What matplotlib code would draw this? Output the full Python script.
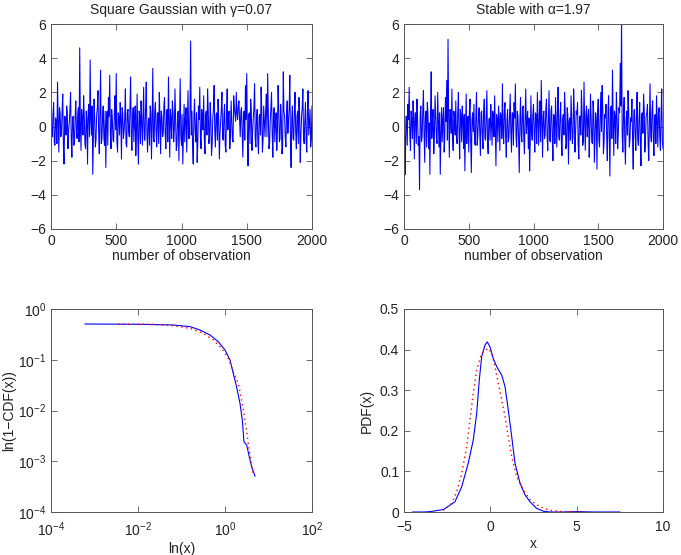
import matplotlib.pyplot as plt
import numpy as np

plt.rcParams['font.family'] = ['Liberation Sans', 'DejaVu Sans']
plt.rcParams['font.size'] = 10
plt.rcParams['mathtext.fontset'] = 'custom'
plt.rcParams['mathtext.rm'] = 'Liberation Sans'

# top-left: square gaussian series, values at observations 0, 10, 20, ...
sq_gauss = [
    0.9, -0.6, 1.4, -1.1, 0.3, 2.6, -1.5, 0.8, -0.4, 1.9, -2.2, 0.5, 1.2, -1.3, 0.2, 2.0, -1.8, 0.6, -0.9, 1.5,
    -0.7, 1.1, 4.6, -1.4, 0.4, 1.8, -1.0, 0.9, -2.2, 1.3, 3.9, -0.5, -2.8, 1.6, -1.2, 0.7, 2.1, -1.6, 3.3, -0.8,
    1.2, -1.1, -2.4, 0.9, 1.7, 3.0, -1.3, 0.4, -0.9, 1.8, 3.1, -1.5, 0.6, 1.4, -1.9, 0.8, -0.3, 2.2, -1.2, 1.0,
    -0.6, 2.9, -1.4, 1.1, 0.3, -1.7, 1.9, -2.2, 0.7, 1.5, -1.1, 2.3, -0.8, 2.6, -1.5, 0.5, 1.2, -1.9, 3.4, -0.9,
    1.4, -1.2, 0.8, 2.0, -1.6, 0.6, -0.4, 1.7, -1.3, 1.0, 2.9, -1.8, 0.4, 1.5, -0.9, 2.2, -1.4, 0.7, -2.0, 2.8,
    -1.1, -2.2, 1.3, 0.5, -1.5, 2.1, -0.7, 5.0, 0.9, -2.2, 1.6, -0.9, -2.1, 1.2, 2.3, -1.3, 0.6, 1.8, -1.6, 0.9,
    2.2, -1.0, 1.4, -1.7, 0.5, 2.4, -1.2, 0.8, 1.6, -1.9, 0.3, 2.0, -0.8, 1.3, -1.5, 2.2, 0.6, -1.3, 1.5, -0.7,
    1.8, 0.7, 2.0, 0.4, 1.5, -0.6, 1.1, -1.8, 0.9, 2.4, 3.1, -2.3, 0.8, 1.6, -1.4, 0.5, 2.5, -1.2, 1.0, -1.6,
    0.7, 2.3, -1.5, 1.2, -0.6, 1.9, 3.1, -1.3, 0.4, 2.0, -1.8, 1.1, 0.3, -1.4, 2.4, -0.9, 1.3, -1.6, 3.2, 0.6,
    -1.2, 1.5, 0.4, 3.0, -2.4, 1.2, -0.8, 2.0, -1.3, 0.9, 1.7, -2.1, 0.6, 2.2, -1.0, 1.4, -1.5, 2.1, 0.3, -1.2,
    1.2,
]
# values at observations 5, 15, 25, ...
sq_gauss_mid = [
    -0.4, 0.7, -0.9, 0.5, -1.0, 0.3, 1.1, -0.6, 0.9, -1.2, 0.6, -0.5, 0.8, -0.2, 1.0, -0.7, 0.4, -1.1, 0.6, -0.3,
    0.8, -0.9, 0.2, 1.0, -0.5, 0.6, -1.3, 0.4, 0.9, -0.6, 0.3, 1.2, -0.4, 0.5, -0.8, 1.1, -0.3, 0.7, -1.0, 0.5,
    -0.6, 0.9, 0.3, -1.1, 0.6, -0.4, 1.0, -0.8, 0.7, -0.2, -0.9, 0.8, -0.5, 0.4, 1.1, -0.7, 0.5, -1.0, 0.8, -0.3,
    1.0, -0.5, 0.6, -0.9, 1.2, -0.2, -0.6, 0.9, -1.0, 0.4, 0.7, -0.8, 1.1, -0.4, 0.3, -1.1, 0.8, 0.2, -0.7, 0.9,
    -0.3, 0.8, -1.0, 0.5, 0.9, -0.6, 1.2, -0.4, 0.6, -0.9, 0.3, 1.0, -0.7, 0.8, -0.2, 0.5, -1.1, 0.9, 0.4, -0.6,
    0.7, -0.4, -0.9, 1.1, 0.3, -0.7, 0.9, -0.5, -1.2, 0.6, -0.3, 0.8, -1.0, 0.4, -0.6, 1.0, -0.2, -0.8, 0.7, -0.5,
    0.9, -0.6, 0.4, -1.0, 1.1, -0.3, 0.7, -0.8, 0.5, -0.4, 1.0, -0.7, 0.6, -1.1, 0.8, -0.2, 0.9, -0.5, 0.3, -0.9,
    1.1, 0.3, 0.8, 1.2, 0.5, 0.9, -0.4, 0.6, -0.8, 0.4, -0.6, 0.7, -1.0, 0.9, -0.3, 1.1, -0.7, 0.5, -0.9, 0.6,
    -0.5, 1.0, -0.8, 0.3, 0.9, -0.6, 0.7, -1.0, 1.1, -0.4, 0.6, -0.9, 0.8, -0.3, 1.0, -0.7, 0.4, -1.1, 0.9, -0.6,
    0.8, -0.4, 1.0, -0.9, 0.5, -0.7, 0.9, -0.3, 0.6, -1.0, 0.7, -0.5, 1.1, -0.6, 0.4, -0.8, 0.9, -0.5, 1.0, -0.7,
]

# top-right: stable series, values at observations 0, 10, 20, ...
stable = [
    1.9, -2.8, 0.6, 1.3, 2.3, -1.4, 0.4, 1.5, -1.9, 0.8, 1.6, -1.1, -3.7, 1.2, -0.6, 2.1, -2.1, 0.9, 1.4, -1.3,
    -2.8, 3.2, 0.5, -1.6, 1.8, -0.7, 2.0, -1.2, -2.8, 1.1, 0.4, -1.5, 1.7, 2.7, 5.1, -1.8, 0.9, 2.2, -1.4, 0.6,
    1.5, -1.0, 2.0, -1.9, 0.7, 1.2, -1.3, -2.6, 1.9, 0.3, -1.5, 1.6, -2.7, 0.8, 1.3, -1.1, 2.0, -0.6, 1.1, -1.7,
    0.9, -1.3, 1.6, -0.8, 2.1, -1.6, 0.5, 1.3, -1.1, 0.7, 1.8, -2.3, 0.4, 1.2, -1.4, 0.6, 2.5, -1.0, 1.4, -1.8,
    1.0, -0.7, 1.9, -1.5, 0.8, 1.4, 2.5, -1.2, 0.6, -2.7, 1.7, -0.9, 1.2, -1.6, 2.2, 0.4, -1.3, -2.6, 1.8, -0.8,
    1.3, -1.5, 0.7, 2.0, -1.1, 1.5, 2.7, -1.8, 0.9, -0.5, 1.6, -1.4, 2.1, -0.9, 1.2, -2.0, 0.6, 1.7, -1.2, 2.3,
    -0.8, 1.4, -1.7, 0.7, 2.0, -1.3, 1.1, -2.2, 0.5, 1.8, -1.0, 2.2, -1.5, 0.9, 1.4, -1.9, 0.6, 2.1, -1.1, 2.6,
    -1.4, 1.2, 0.4, -1.8, 1.9, -0.9, 1.5, -2.1, 0.8, -2.5, 1.6, -1.2, 2.0, 2.4, -1.6, 0.7, 1.3, -2.0, 1.8, -2.9,
    1.2, 3.3, -1.7, 0.6, 2.0, -1.3, 1.1, 3.7, 6.4, -1.5, 1.7, -2.2, 0.9, 2.1, -1.2, 0.5, 1.6, -2.5, 1.0, -1.4,
    2.0, -1.1, 1.4, -2.3, 0.8, 1.9, -1.5, 0.6, 1.3, -2.0, 2.5, -0.9, 1.5, -1.7, 0.7, 1.8, -1.2, 1.1, -1.4, 2.2,
    -1.3,
]
# values at observations 5, 15, 25, ...
stable_mid = [
    -0.8, 0.6, -1.1, 0.4, -0.5, 0.9, -0.7, 0.3, 0.8, -1.0, 0.5, -0.6, 0.7, -0.9, 1.0, -0.4, 0.6, -1.2, 0.8, 0.2,
    0.9, -0.7, 1.0, -0.3, 0.6, -1.0, 0.4, 0.8, -0.5, -0.9, 1.1, -0.6, 0.3, -0.8, 0.5, 1.0, -0.4, -0.7, 0.9, -0.5,
    -0.6, 0.8, -0.4, 1.0, -0.9, 0.3, 0.7, -0.5, -1.0, 0.6, 0.9, -0.8, 0.4, -0.3, -0.9, 0.7, -1.1, 0.5, -0.4, 0.8,
    -0.5, 0.9, -0.7, 0.6, -1.0, 0.4, -0.8, 0.2, 0.9, -0.6, -0.4, 0.7, -0.9, 0.5, 0.8, -0.7, -0.3, 0.9, -0.6, 0.4,
    -0.9, 0.7, -0.3, 0.8, -1.1, 0.5, -0.6, 0.9, -0.8, 0.4, -0.5, 1.0, -0.7, 0.6, -0.4, 0.9, 0.5, -0.8, -0.3, 0.7,
    -0.4, 0.8, -1.0, 0.5, 0.7, -0.9, 0.3, 0.6, -0.7, 1.0, -0.5, 0.4, -0.8, 0.9, -0.6, 0.7, -1.0, 0.3, 0.8, -0.6,
    0.6, -0.9, 0.4, -0.5, 0.8, -1.0, 0.7, 0.3, -0.8, 0.5, -0.6, 0.9, -0.4, 0.7, -1.1, 0.6, -0.5, 0.8, -0.9, 0.4,
    0.7, -0.6, 1.0, -0.4, 0.5, -1.0, 0.8, -0.7, 0.4, 0.9, -0.8, 0.6, -0.3, 1.1, -0.9, 0.5, -0.6, 0.8, -0.5, 1.0,
    -0.7, 0.5, 0.9, -1.0, 0.6, -0.4, 0.8, 1.2, -0.6, 0.7, -0.9, 0.4, -0.5, 1.0, -0.8, 0.3, -0.7, 0.9, -0.4, 0.6,
    -0.8, 0.5, -0.9, 0.7, -0.4, 1.0, -0.6, 0.8, -1.0, 0.4, -0.5, 0.9, -0.7, 0.6, -1.0, 0.3, 0.8, -0.6, 0.7, -0.9,
]

# bottom-left: tail of empirical (blue) and fitted (red) distribution
tail_x_emp = [6.05e-4, 0.01, 0.065, 0.157, 0.266, 0.452, 0.70, 1.0, 1.30, 1.55, 1.85, 2.21, 2.50, 2.73,
              3.15, 3.62, 4.10, 4.9]
tail_y_emp = [0.506, 0.50, 0.484, 0.449, 0.386, 0.308, 0.227, 0.156, 0.099, 0.054, 0.029, 0.0139, 0.0065,
              0.0024, 0.0021, 0.00122, 0.00078, 0.00051]
tail_x_fit = [3.5e-3, 0.02, 0.065, 0.157, 0.318, 0.538, 0.84, 1.19, 1.55, 2.02, 2.29, 2.55, 2.88, 3.15,
              3.44, 3.76, 4.1, 4.48]
tail_y_fit = [0.506, 0.50, 0.469, 0.416, 0.332, 0.245, 0.168, 0.107, 0.058, 0.034, 0.0203, 0.0119, 0.0065,
              0.0038, 0.0022, 0.00134, 0.00078, 0.00053]

# bottom-right: density of empirical (blue) and fitted (red)
pdf_x_emp = [-4.5, -3.8, -3.49, -2.72, -2.05, -1.66, -1.28, -0.99, -0.79, -0.64, -0.50, -0.31, -0.18,
             -0.02, 0.17, 0.37, 0.66, 0.85, 1.04, 1.24, 1.43, 1.72, 2.01, 2.30, 2.68, 3.07, 3.45, 4.2,
             5.0, 6.0, 7.5]
pdf_y_emp = [0.0, 0.0, 0.001, 0.006, 0.025, 0.062, 0.12, 0.177, 0.243, 0.325, 0.383, 0.411, 0.419,
             0.407, 0.378, 0.358, 0.337, 0.309, 0.251, 0.185, 0.12, 0.071, 0.042, 0.025, 0.009, 0.002,
             0.0, 0.0, 0.001, 0.0, 0.0]
pdf_x_fit = [-2.72, -2.24, -1.95, -1.66, -1.37, -1.18, -0.99, -0.79, -0.50, -0.12, 0.08, 0.27, 0.46,
             0.66, 0.85, 1.04, 1.24, 1.53, 1.91, 2.30, 2.87, 3.45, 4.2, 5.5]
pdf_y_fit = [0.004, 0.021, 0.05, 0.095, 0.161, 0.227, 0.292, 0.35, 0.391, 0.403, 0.391, 0.358, 0.317,
             0.276, 0.235, 0.185, 0.136, 0.087, 0.054, 0.030, 0.013, 0.004, 0.001, 0.0]

obs = np.arange(0, 2001, 5)
sq_series = np.empty(len(obs))
sq_series[0::2] = sq_gauss
sq_series[1::2] = sq_gauss_mid
st_series = np.empty(len(obs))
st_series[0::2] = stable
st_series[1::2] = stable_mid

W, H = 681, 555
fig = plt.figure(figsize=(W / 100, H / 100), dpi=100)
txt = '#222222'


def box(l, t, r, b):
    return [l / W, 1 - b / H, (r - l) / W, (b - t) / H]


def style(ax, xpad=3.5):
    for s in ax.spines.values():
        s.set_color('#555555')
        s.set_linewidth(0.7)
    ax.tick_params(direction='in', top=True, right=True, length=4, width=0.6,
                   color='#555555', labelcolor=txt, labelsize=10, which='major')
    ax.tick_params(axis='x', pad=xpad)
    ax.tick_params(which='minor', length=0)


neg_ticks = ['\u22126', '\u22124', '\u22122', '0', '2', '4', '6']

ax1 = fig.add_axes(box(51, 24, 312, 229))
ax1.plot(obs, sq_series, color='blue', linewidth=0.75)
ax1.set_xlim(0, 2000)
ax1.set_ylim(-6, 6)
ax1.set_xticks([0, 500, 1000, 1500, 2000])
ax1.set_yticks([-6, -4, -2, 0, 2, 4, 6])
ax1.set_yticklabels(neg_ticks)
ax1.set_title('Square Gaussian with \u03b3=0.07', fontsize=10, pad=7, color=txt)
ax1.set_xlabel('number of observation', fontsize=10, labelpad=1, color=txt)
style(ax1)

ax2 = fig.add_axes(box(404, 24, 663, 229))
ax2.plot(obs, st_series, color='blue', linewidth=0.75)
ax2.set_xlim(0, 2000)
ax2.set_ylim(-6, 6)
ax2.set_xticks([0, 500, 1000, 1500, 2000])
ax2.set_yticks([-6, -4, -2, 0, 2, 4, 6])
ax2.set_yticklabels(neg_ticks)
ax2.set_title('Stable with \u03b1=1.97', fontsize=10, pad=7, color=txt)
ax2.set_xlabel('number of observation', fontsize=10, labelpad=1, color=txt)
style(ax2)

ax3 = fig.add_axes(box(51, 309, 312, 512))
ax3.loglog(tail_x_emp, tail_y_emp, color='blue', linewidth=0.8)
ax3.loglog(tail_x_fit, tail_y_fit, color='red', linestyle=(0, (1, 2.5)), linewidth=1.0)
ax3.set_xlim(1e-4, 1e2)
ax3.set_ylim(1e-4, 1e0)
ax3.set_xticks([1e-4, 1e-2, 1e0, 1e2])
ax3.set_yticks([1e-4, 1e-3, 1e-2, 1e-1, 1e0])
ax3.minorticks_off()
ax3.set_xlabel('ln(x)', fontsize=10, labelpad=2, color=txt)
ax3.set_ylabel('ln(1\u2212CDF(x))', fontsize=10, labelpad=1, color=txt)
style(ax3, xpad=6)

ax4 = fig.add_axes(box(404, 309, 663, 512))
ax4.plot(pdf_x_emp, pdf_y_emp, color='blue', linewidth=0.8)
ax4.plot(pdf_x_fit, pdf_y_fit, color='red', linestyle=(0, (1, 2.5)), linewidth=1.0)
ax4.set_xlim(-5, 10)
ax4.set_ylim(0, 0.5)
ax4.set_xticks([-5, 0, 5, 10])
ax4.set_xticklabels(['\u22125', '0', '5', '10'])
ax4.set_yticks([0, 0.1, 0.2, 0.3, 0.4, 0.5])
ax4.set_yticklabels(['0', '0.1', '0.2', '0.3', '0.4', '0.5'])
ax4.set_xlabel('x', fontsize=10, labelpad=2, color=txt)
ax4.set_ylabel('PDF(x)', fontsize=10, labelpad=4, color=txt)
style(ax4, xpad=6)

fig.savefig('out.png', dpi=100)
